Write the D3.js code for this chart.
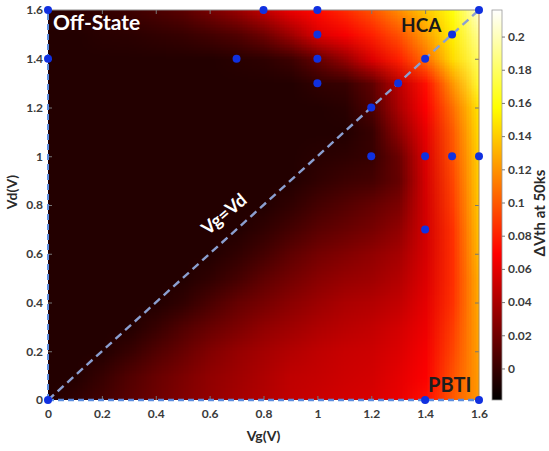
<!DOCTYPE html>
<html>
<head>
<meta charset="utf-8">
<script src="https://cdn.jsdelivr.net/npm/d3@7"></script>
<style>
  body { margin: 0; background: #fff; }
  svg text { font-family: Lato, "Open Sans", "DejaVu Sans", sans-serif; }
</style>
</head>
<body>
<svg id="chart" width="549" height="451"></svg>
<script>
// ---------------- data ----------------
const vgValues = [0, 0.1, 0.2, 0.3, 0.4, 0.5, 0.6, 0.7, 0.8, 0.9, 1.0, 1.1, 1.2, 1.3, 1.4, 1.5, 1.6];
const vdValues = [1.6, 1.5, 1.4, 1.3, 1.2, 1.1, 1.0, 0.9, 0.8, 0.7, 0.6, 0.5, 0.4, 0.3, 0.2, 0.1, 0.0];
// ΔVth at 50ks, rows follow vdValues (top to bottom), columns follow vgValues
const dvthGrid = [
  [-0.005,-0.003,-0.002, 0.002, 0.007, 0.012, 0.022, 0.033, 0.047, 0.062, 0.072, 0.083, 0.097, 0.117, 0.138, 0.160, 0.208],
  [-0.007,-0.007,-0.005,-0.004,-0.002, 0.000, 0.004, 0.009, 0.019, 0.036, 0.057, 0.066, 0.080, 0.097, 0.124, 0.152, 0.192],
  [-0.007,-0.007,-0.007,-0.007,-0.007,-0.007,-0.007,-0.005,-0.003, 0.002, 0.016, 0.033, 0.057, 0.080, 0.107, 0.145, 0.180],
  [-0.007,-0.007,-0.007,-0.007,-0.007,-0.007,-0.007,-0.007,-0.007,-0.007,-0.002, 0.000, 0.014, 0.046, 0.074, 0.121, 0.169],
  [-0.007,-0.007,-0.007,-0.007,-0.007,-0.007,-0.007,-0.007,-0.007,-0.007,-0.007,-0.005, 0.008, 0.040, 0.068, 0.107, 0.150],
  [-0.007,-0.007,-0.007,-0.007,-0.007,-0.007,-0.007,-0.007,-0.007,-0.007,-0.007,-0.007, 0.000, 0.030, 0.061, 0.100, 0.147],
  [-0.007,-0.007,-0.007,-0.007,-0.007,-0.007,-0.007,-0.007,-0.007,-0.007,-0.005,-0.003, 0.000, 0.018, 0.057, 0.097, 0.143],
  [-0.007,-0.007,-0.007,-0.007,-0.007,-0.007,-0.007,-0.007,-0.007,-0.007,-0.002, 0.002, 0.005, 0.016, 0.055, 0.093, 0.142],
  [-0.007,-0.007,-0.007,-0.007,-0.007,-0.007,-0.007,-0.007,-0.007,-0.002, 0.005, 0.010, 0.016, 0.024, 0.054, 0.090, 0.140],
  [-0.007,-0.007,-0.007,-0.007,-0.007,-0.007,-0.007,-0.007,-0.002, 0.005, 0.012, 0.017, 0.022, 0.031, 0.054, 0.086, 0.138],
  [-0.007,-0.007,-0.007,-0.007,-0.007,-0.007,-0.007,-0.002, 0.005, 0.014, 0.021, 0.026, 0.031, 0.038, 0.055, 0.085, 0.135],
  [-0.007,-0.007,-0.007,-0.007,-0.007,-0.007,-0.002, 0.005, 0.014, 0.021, 0.028, 0.033, 0.036, 0.043, 0.057, 0.085, 0.131],
  [-0.007,-0.007,-0.007,-0.007,-0.007,-0.002, 0.007, 0.016, 0.022, 0.029, 0.035, 0.040, 0.043, 0.048, 0.060, 0.086, 0.130],
  [-0.007,-0.007,-0.007,-0.007, 0.000, 0.009, 0.017, 0.024, 0.031, 0.036, 0.041, 0.045, 0.048, 0.054, 0.063, 0.090, 0.128],
  [-0.007,-0.007,-0.007, 0.000, 0.009, 0.017, 0.026, 0.033, 0.038, 0.043, 0.047, 0.050, 0.052, 0.057, 0.066, 0.093, 0.126],
  [-0.007,-0.007, 0.000, 0.009, 0.017, 0.024, 0.031, 0.036, 0.041, 0.047, 0.049, 0.052, 0.054, 0.060, 0.068, 0.097, 0.124],
  [-0.007,-0.002, 0.004, 0.012, 0.019, 0.026, 0.032, 0.038, 0.043, 0.048, 0.051, 0.054, 0.056, 0.062, 0.074, 0.100, 0.123]
];
// measured stress conditions (blue dots)
const pointVg = [0, 0, 0, 0.7, 0.8, 1.0, 1.0, 1.0, 1.0, 1.2, 1.3, 1.4, 1.5, 1.6, 1.2, 1.4, 1.5, 1.6, 1.4, 1.4, 1.6];
const pointVd = [0, 1.4, 1.6, 1.4, 1.6, 1.6, 1.5, 1.4, 1.3, 1.2, 1.3, 1.4, 1.5, 1.6, 1.0, 1.0, 1.0, 1.0, 0.7, 0, 0];
const xTicks = [0, 0.2, 0.4, 0.6, 0.8, 1, 1.2, 1.4, 1.6];
const yTicks = [0, 0.2, 0.4, 0.6, 0.8, 1, 1.2, 1.4, 1.6];
const cbTicks = [0, 0.02, 0.04, 0.06, 0.08, 0.1, 0.12, 0.14, 0.16, 0.18, 0.2];
const cbDomain = [-0.019, 0.216];
const regionLabels = ["Off-State", "HCA", "PBTI"];
const diagLabel = "Vg=Vd";

// ---------------- layout ----------------
const svg = d3.select("#chart");
const L = 48, R = 479, T = 10, B = 400;
const x = d3.scaleLinear().domain([0, 1.6]).range([L, R]);
const y = d3.scaleLinear().domain([0, 1.6]).range([B, T]);

// MATLAB "hot" colormap
const hot = t => {
  t = Math.max(0, Math.min(1, t));
  const r = Math.min(1, t / 0.375);
  const g = Math.max(0, Math.min(1, (t - 0.375) / 0.375));
  const b = Math.max(0, Math.min(1, (t - 0.75) / 0.25));
  return d3.rgb(r * 255, g * 255, b * 255);
};
const color = d3.scaleSequential(hot).domain(cbDomain);

// ---------------- heatmap ----------------
const defs = svg.append("defs");
defs.append("clipPath").attr("id", "plotClip")
  .append("rect").attr("x", L).attr("y", T).attr("width", R - L).attr("height", B - T);

const nx = vgValues.length, ny = vdValues.length;
const cv = document.createElement("canvas");
cv.width = nx; cv.height = ny;
const ctx = cv.getContext("2d");
const img = ctx.createImageData(nx, ny);
dvthGrid.forEach((row, j) => row.forEach((v, i) => {
  const c = color(v);
  const k = (j * nx + i) * 4;
  img.data[k] = c.r; img.data[k + 1] = c.g; img.data[k + 2] = c.b; img.data[k + 3] = 255;
}));
ctx.putImageData(img, 0, 0);
const half = 0.05;
svg.append("g").attr("clip-path", "url(#plotClip)")
  .append("image")
  .attr("href", cv.toDataURL())
  .attr("x", x(vgValues[0] - half))
  .attr("y", y(vdValues[0] + half))
  .attr("width", x(vgValues[nx - 1] + half) - x(vgValues[0] - half))
  .attr("height", y(vdValues[ny - 1] - half) - y(vdValues[0] + half))
  .attr("preserveAspectRatio", "none");

// ---------------- axes ----------------
const tickFmt = d => d3.format("")(+d.toFixed(2));
const axStyle = g => {
  g.select(".domain").remove();
  g.selectAll(".tick line").attr("stroke", "#777").attr("stroke-width", 1);
  g.selectAll(".tick text").attr("fill", "#3a3a3a").style("font-size", "12px").style("font-weight", "700");
};
svg.append("g").attr("transform", `translate(0,${B})`)
  .call(d3.axisBottom(x).tickValues(xTicks).tickFormat(tickFmt).tickSize(-4).tickPadding(9)).call(axStyle);
svg.append("g").attr("transform", `translate(${L},0)`)
  .call(d3.axisLeft(y).tickValues(yTicks).tickFormat(tickFmt).tickSize(-4).tickPadding(5)).call(axStyle);
svg.append("g").attr("transform", `translate(0,${T})`)
  .call(d3.axisTop(x).tickValues(xTicks).tickFormat("").tickSize(-4)).call(axStyle);
svg.append("g").attr("transform", `translate(${R},0)`)
  .call(d3.axisRight(y).tickValues(yTicks).tickFormat("").tickSize(-4)).call(axStyle);
// top and right box lines
svg.append("line").attr("x1", L).attr("x2", R).attr("y1", T).attr("y2", T).attr("stroke", "#888").attr("stroke-width", 1);
svg.append("line").attr("x1", R).attr("x2", R).attr("y1", T).attr("y2", B).attr("stroke", "#b08a50").attr("stroke-width", 1);

// dashed lines along axes and the diagonal
svg.append("line").attr("x1", x(0)).attr("x2", x(1.6)).attr("y1", y(0)).attr("y2", y(0))
  .attr("stroke", "#5b8ee0").attr("stroke-width", 2.5).attr("stroke-dasharray", "6,4");
svg.append("line").attr("x1", x(0)).attr("x2", x(0)).attr("y1", y(0)).attr("y2", y(1.6))
  .attr("stroke", "#5b8ee0").attr("stroke-width", 2).attr("stroke-dasharray", "6,4");
svg.append("line").attr("x1", x(0)).attr("x2", x(1.6)).attr("y1", y(0)).attr("y2", y(1.6))
  .attr("stroke", "#8b9fd0").attr("stroke-width", 2.4).attr("stroke-dasharray", "8,5");

// axis titles
svg.append("text").attr("x", (L + R) / 2).attr("y", 441).attr("text-anchor", "middle")
  .style("font-size", "14px").style("font-weight", "700").attr("fill", "#2a2a2a").text("Vg(V)");
svg.append("text").attr("transform", `translate(17,192) rotate(-90)`).attr("text-anchor", "middle")
  .style("font-size", "14px").style("font-weight", "700").attr("fill", "#2a2a2a").text("Vd(V)");

// region labels
svg.append("text").attr("x", 53).attr("y", 30).style("font-size", "21px").style("font-weight", "700")
  .attr("fill", "#fff").text(regionLabels[0]);
svg.append("text").attr("x", 401).attr("y", 32).style("font-size", "19px").style("font-weight", "700")
  .attr("fill", "#1a1a1a").text(regionLabels[1]);
svg.append("text").attr("x", 428).attr("y", 392).style("font-size", "20px").style("font-weight", "700")
  .attr("fill", "#1e1e1e").text(regionLabels[2]);
svg.append("text").attr("transform", `translate(224,214) rotate(-40)`).attr("text-anchor", "middle")
  .attr("dy", "0.35em").style("font-size", "18px").style("font-weight", "700")
  .attr("fill", "#fff").text(diagLabel);

// points
svg.append("g").selectAll("circle").data(pointVg.map((v, i) => [v, pointVd[i]])).join("circle")
  .attr("cx", d => x(d[0])).attr("cy", d => y(d[1])).attr("r", 4)
  .attr("fill", "#1030e0");

// ---------------- colorbar ----------------
const cbX = 492, cbW = 10;
const cbY = d3.scaleLinear().domain(cbDomain).range([B, T]);
const grad = defs.append("linearGradient").attr("id", "cbGrad")
  .attr("x1", 0).attr("y1", 1).attr("x2", 0).attr("y2", 0);
d3.range(0, 1.0001, 0.025).forEach(t => {
  grad.append("stop").attr("offset", t).attr("stop-color", hot(t).formatHex());
});
svg.append("rect").attr("x", cbX).attr("y", cbY(cbDomain[1])).attr("width", cbW)
  .attr("height", cbY(cbDomain[0]) - cbY(cbDomain[1]))
  .attr("fill", "url(#cbGrad)").attr("stroke", "#999").attr("stroke-width", 0.8);
svg.append("g").attr("transform", `translate(${cbX + cbW},0)`)
  .call(d3.axisRight(cbY).tickValues(cbTicks).tickFormat(tickFmt).tickSize(3).tickPadding(3))
  .call(axStyle);
svg.append("text").attr("transform", `translate(545,213) rotate(-90)`).attr("text-anchor", "middle")
  .style("font-size", "15px").style("font-weight", "700").attr("fill", "#2a2a2a").text("ΔVth at 50ks");
</script>
</body>
</html>
